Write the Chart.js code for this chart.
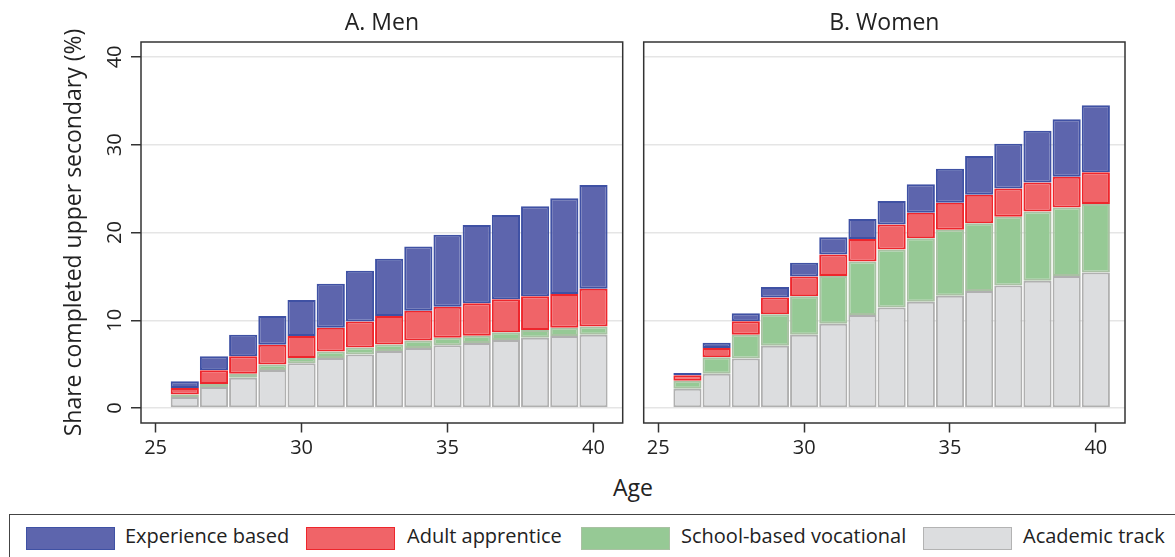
<!DOCTYPE html>
<html>
<head>
<meta charset="utf-8">
<script src="https://cdn.jsdelivr.net/npm/chart.js@4/dist/chart.umd.min.js"></script>
<style>
  body { margin: 0; background: #fff; width: 1175px; height: 557px; overflow: hidden; position: relative;
         font-family: "Open Sans", sans-serif; color: #222; }
  canvas { position: absolute; top: 0; }
  #menChart { left: 0; }
  #womenChart { left: 630px; }
  #ageLabel { position: absolute; left: 583px; width: 100px; top: 474px; line-height: 26px; font-size: 23px; text-align: center; }
  #legendBox { position: absolute; left: 9px; top: 514px; width: 1180px; height: 60px; border: 1.5px solid #444; box-sizing: border-box; }
  .sw { position: absolute; top: 527px; width: 89px; height: 23px; box-sizing: border-box; border: 1.5px solid; }
  .lt { position: absolute; top: 524px; line-height: 24px; font-size: 20px; white-space: nowrap; }
</style>
</head>
<body>
<canvas id="menChart" width="640" height="470"></canvas>
<canvas id="womenChart" width="515" height="470"></canvas>
<div id="ageLabel">Age</div>
<div id="legendBox"></div>
<div class="sw" style="left:26px;background:#5d65ad;border-color:#3f51a4"></div>
<div class="lt" style="left:125px">Experience based</div>
<div class="sw" style="left:306px;background:#f06468;border-color:#ee262c"></div>
<div class="lt" style="left:407px">Adult apprentice</div>
<div class="sw" style="left:581px;background:#96c995;border-color:#a9c1a3"></div>
<div class="lt" style="left:681px">School-based vocational</div>
<div class="sw" style="left:923px;background:#dcdddf;border-color:#b3b3b3"></div>
<div class="lt" style="left:1023px">Academic track</div>
<script>
// 年龄和刻度
const ages = [26, 27, 28, 29, 30, 31, 32, 33, 34, 35, 36, 37, 38, 39, 40];
const xTicks = [25, 30, 35, 40];
const yTicks = [0, 10, 20, 30, 40];

// 男性
const menAcademic   = [1.25, 2.4, 3.45, 4.35, 5.1, 5.7, 6.1, 6.5, 6.85, 7.15, 7.4, 7.75, 8.0, 8.2, 8.35];
const menVocational = [0.3, 0.35, 0.45, 0.6, 0.6, 0.75, 0.8, 0.75, 0.85, 0.85, 0.85, 0.9, 0.9, 0.95, 0.95];
const menApprentice = [0.75, 1.55, 2.0, 2.25, 2.5, 2.7, 2.95, 3.25, 3.4, 3.55, 3.7, 3.75, 3.85, 3.85, 4.3];
const menExperience = [0.75, 1.6, 2.45, 3.3, 4.1, 5.0, 5.8, 6.5, 7.3, 8.2, 8.9, 9.6, 10.25, 10.9, 11.8];

// 女性
const womenAcademic   = [2.2, 3.9, 5.65, 7.1, 8.35, 9.6, 10.6, 11.45, 12.1, 12.8, 13.35, 13.95, 14.5, 15.05, 15.45];
const womenVocational = [0.9, 1.9, 2.7, 3.6, 4.4, 5.45, 6.1, 6.6, 7.25, 7.5, 7.7, 7.85, 7.9, 7.8, 7.8];
const womenApprentice = [0.65, 1.05, 1.55, 1.9, 2.25, 2.45, 2.55, 2.85, 2.9, 3.1, 3.25, 3.2, 3.3, 3.5, 3.6];
const womenExperience = [0.25, 0.6, 0.9, 1.2, 1.55, 1.95, 2.3, 2.7, 3.25, 3.85, 4.4, 5.1, 5.9, 6.55, 7.65];

const seriesNames  = ['Academic track', 'School-based vocational', 'Adult apprentice', 'Experience based'];
const fillColors   = ['#dcdddf', '#96c995', '#f06468', '#5d65ad'];
const borderColors = ['#b0b0b0', '#a9c1a3', '#ee262c', '#3f51a4'];

const framePlugin = {
    id: 'frame',
    afterDraw(chart) {
        const {ctx, chartArea: a} = chart;
        ctx.save();
        ctx.strokeStyle = '#333';
        ctx.lineWidth = 1.5;
        ctx.strokeRect(a.left, a.top, a.right - a.left, a.bottom - a.top);
        ctx.restore();
    }
};

// 竖排的 y 轴刻度文字
const yLabelPlugin = {
    id: 'yLabels',
    afterDraw(chart) {
        const {ctx} = chart;
        const y = chart.scales.y;
        ctx.save();
        ctx.fillStyle = '#222';
        ctx.font = '20px "Open Sans"';
        ctx.textAlign = 'center';
        ctx.textBaseline = 'alphabetic';
        yTicks.forEach(v => {
            ctx.save();
            ctx.translate(120.5, y.getPixelForValue(v));
            ctx.rotate(-Math.PI / 2);
            ctx.fillText(String(v), 0, 0);
            ctx.restore();
        });
        ctx.restore();
    }
};

const drawPanel = (canvasId, title, series, isLeft) => {
    const ctx = document.getElementById(canvasId).getContext('2d');
    new Chart(ctx, {
        type: 'bar',
        data: {
            datasets: series.map((vals, k) => ({
                label: seriesNames[k],
                data: ages.map((a, i) => ({x: a, y: vals[i]})),
                backgroundColor: fillColors[k],
                borderColor: borderColors[k],
                borderWidth: 2,
                borderSkipped: false,
                barPercentage: 0.965,
                categoryPercentage: 1
            }))
        },
        options: {
            responsive: false,
            animation: false,
            layout: {padding: {top: 0, left: 0, bottom: 0, right: isLeft ? 17.3 : 20}},
            plugins: {
                legend: {display: false},
                tooltip: {enabled: false},
                title: {
                    display: true,
                    text: title,
                    fullSize: false,
                    color: '#222',
                    font: {family: 'Open Sans', size: 23, weight: 'normal'},
                    padding: {top: 9.6, bottom: 4.8}
                }
            },
            scales: {
                x: {
                    type: 'linear',
                    stacked: true,
                    offset: false,
                    min: 24.5,
                    max: 41,
                    afterBuildTicks: s => { s.ticks = xTicks.map(v => ({value: v})); },
                    afterFit: s => { s.height = 47; },
                    border: {display: false},
                    grid: {offset: false, drawOnChartArea: false, drawTicks: true, tickLength: 9.5, tickColor: '#333', tickWidth: 1.5},
                    ticks: {color: '#222', padding: 4, font: {family: 'Open Sans', size: 20}}
                },
                y: {
                    type: 'linear',
                    stacked: true,
                    min: -1.7,
                    max: 41.7,
                    afterBuildTicks: s => { s.ticks = yTicks.map(v => ({value: v})); },
                    afterFit: s => { s.width = isLeft ? 141 : 13.7; },
                    border: {display: false},
                    grid: {color: '#e5e5e5', lineWidth: 1.5, drawTicks: isLeft, tickLength: 10, tickColor: '#333', tickWidth: 1.5},
                    ticks: {display: false},
                    title: {
                        display: isLeft,
                        text: 'Share completed upper secondary (%)',
                        color: '#222',
                        font: {family: 'Open Sans', size: 23},
                        padding: {top: 61, bottom: 0}
                    }
                }
            }
        },
        plugins: isLeft ? [framePlugin, yLabelPlugin] : [framePlugin]
    });
}

drawPanel('menChart', 'A. Men', [menAcademic, menVocational, menApprentice, menExperience], true);
drawPanel('womenChart', 'B. Women', [womenAcademic, womenVocational, womenApprentice, womenExperience], false);
</script>
</body>
</html>
